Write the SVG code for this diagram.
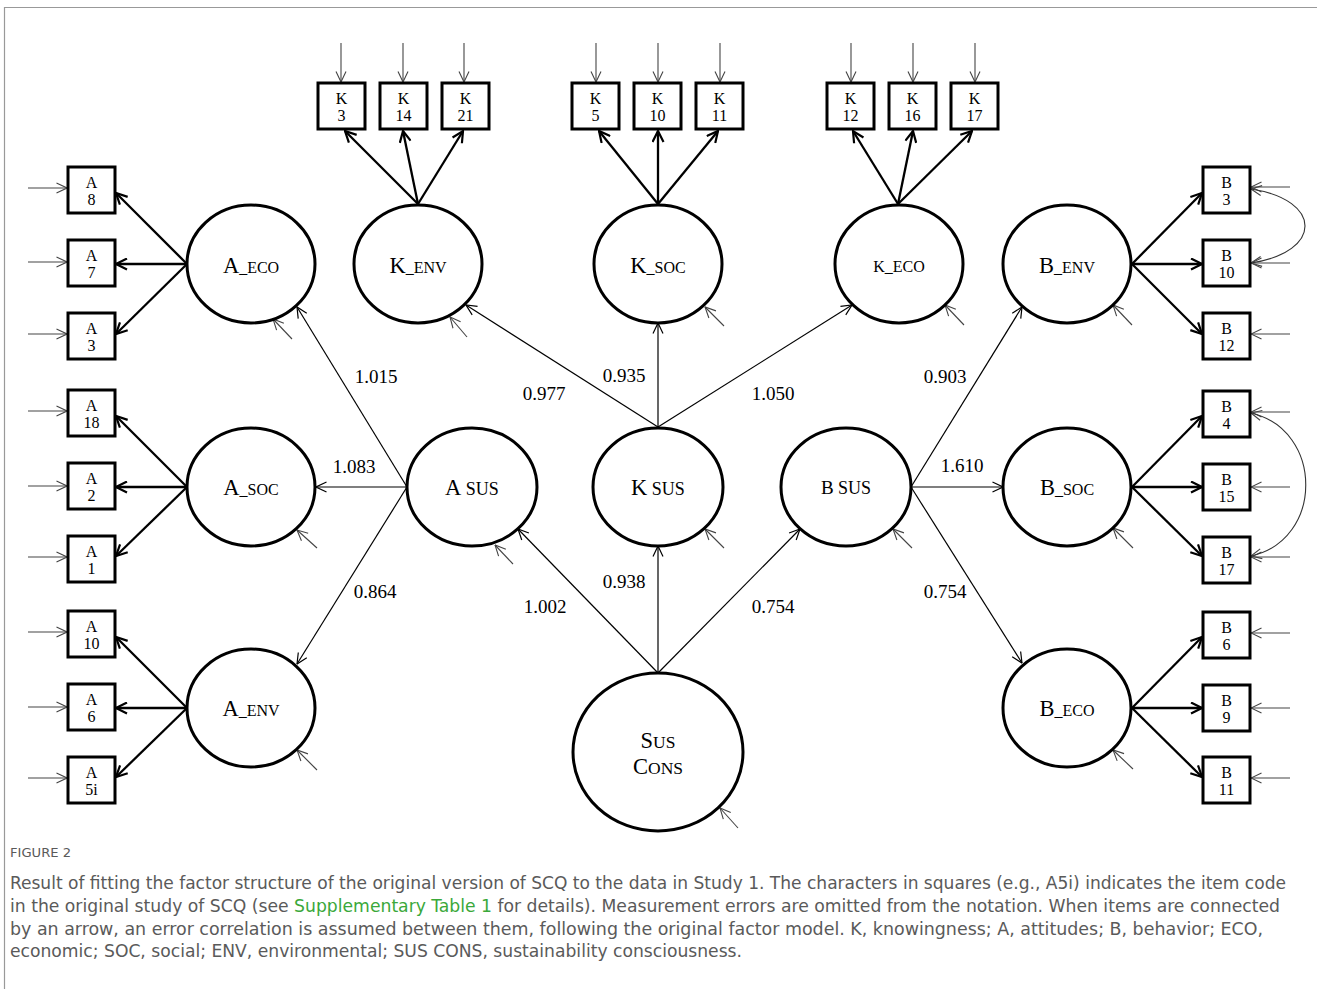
<svg xmlns="http://www.w3.org/2000/svg" width="1317" height="989" viewBox="0 0 1317 989">
<style>
.lat{fill:#fff;stroke:#000;stroke-width:3}
.box{fill:#fff;stroke:#000;stroke-width:3}
.ld{stroke:#000;stroke-width:2.3;fill:none;marker-end:url(#ahb)}
.st{stroke:#000;stroke-width:1.2;fill:none;marker-end:url(#ah)}
.er{stroke:#444;stroke-width:1.1;fill:none;marker-end:url(#ahg)}
.cr{stroke:#333;stroke-width:1.1;fill:none;marker-end:url(#ahg);marker-start:url(#ahg)}
.bt{font-family:"Liberation Serif","DejaVu Serif",serif;font-size:16px;text-anchor:middle;fill:#000}
.lt{font-family:"Liberation Serif","DejaVu Serif",serif;font-size:16px;text-anchor:middle;fill:#000}
.big{font-size:22.5px}
.num{font-family:"Liberation Serif","DejaVu Serif",serif;font-size:19px;text-anchor:middle;fill:#000}
.cap{font-family:"Liberation Sans Narrow","DejaVu Sans Condensed","Roboto Condensed","Liberation Sans",sans-serif;font-size:17px;fill:#5a5a5a}
</style>
<defs>
<marker id="ah" viewBox="0 0 12 12" refX="11.5" refY="6" markerWidth="12" markerHeight="12" markerUnits="userSpaceOnUse" orient="auto-start-reverse"><path d="M1,1 L11.5,6 L1,11" fill="none" stroke="#000" stroke-width="1.2"/></marker>
<marker id="ahb" viewBox="0 0 13 13" refX="12" refY="6.5" markerWidth="13" markerHeight="13" markerUnits="userSpaceOnUse" orient="auto-start-reverse"><path d="M1,1 L12,6.5 L1,12" fill="none" stroke="#000" stroke-width="2.2"/></marker>
<marker id="ahg" viewBox="0 0 12 12" refX="11.5" refY="6" markerWidth="12" markerHeight="12" markerUnits="userSpaceOnUse" orient="auto-start-reverse"><path d="M1,1 L11.5,6 L1,11" fill="none" stroke="#444" stroke-width="1.1"/></marker>
</defs>
<rect width="1317" height="989" fill="#fff"/>
<path d="M4.5,989 V7.5 H1317" fill="none" stroke="#999" stroke-width="1.2"/>

<g id="connectors">
<line class="st" x1="407" y1="487" x2="297" y2="307"/>
<line class="st" x1="407" y1="487" x2="316" y2="487"/>
<line class="st" x1="407" y1="487" x2="297" y2="664"/>
<line class="st" x1="658" y1="427" x2="466" y2="305"/>
<line class="st" x1="658" y1="427" x2="658" y2="323"/>
<line class="st" x1="658" y1="427" x2="852" y2="305"/>
<line class="st" x1="911" y1="487" x2="1022" y2="307"/>
<line class="st" x1="911" y1="487" x2="1003" y2="487"/>
<line class="st" x1="911" y1="487" x2="1022" y2="663"/>
<line class="st" x1="658" y1="673" x2="518" y2="529"/>
<line class="st" x1="658" y1="673" x2="658" y2="546"/>
<line class="st" x1="658" y1="673" x2="800" y2="529"/>
<line class="ld" x1="187" y1="264" x2="116" y2="193"/>
<line class="ld" x1="187" y1="264" x2="116" y2="264"/>
<line class="ld" x1="187" y1="264" x2="116" y2="334"/>
<line class="ld" x1="187" y1="487" x2="116" y2="416"/>
<line class="ld" x1="187" y1="487" x2="116" y2="487"/>
<line class="ld" x1="187" y1="487" x2="116" y2="556"/>
<line class="ld" x1="187" y1="708" x2="116" y2="637"/>
<line class="ld" x1="187" y1="708" x2="116" y2="708"/>
<line class="ld" x1="187" y1="708" x2="116" y2="777"/>
<line class="ld" x1="418" y1="204" x2="345" y2="131"/>
<line class="ld" x1="418" y1="204" x2="403" y2="131"/>
<line class="ld" x1="418" y1="204" x2="463" y2="131"/>
<line class="ld" x1="658" y1="204" x2="599" y2="131"/>
<line class="ld" x1="658" y1="204" x2="658" y2="131"/>
<line class="ld" x1="658" y1="204" x2="718" y2="131"/>
<line class="ld" x1="898" y1="204" x2="853" y2="131"/>
<line class="ld" x1="898" y1="204" x2="913" y2="131"/>
<line class="ld" x1="898" y1="204" x2="972" y2="131"/>
<line class="ld" x1="1132" y1="264" x2="1202" y2="193"/>
<line class="ld" x1="1132" y1="264" x2="1202" y2="264"/>
<line class="ld" x1="1132" y1="264" x2="1202" y2="334"/>
<line class="ld" x1="1132" y1="487" x2="1202" y2="416"/>
<line class="ld" x1="1132" y1="487" x2="1202" y2="487"/>
<line class="ld" x1="1132" y1="487" x2="1202" y2="556"/>
<line class="ld" x1="1132" y1="708" x2="1202" y2="637"/>
<line class="ld" x1="1132" y1="708" x2="1202" y2="708"/>
<line class="ld" x1="1132" y1="708" x2="1202" y2="777"/>
<line class="er" x1="292" y1="339" x2="273" y2="319"/>
<line class="er" x1="317" y1="548" x2="297" y2="530"/>
<line class="er" x1="317" y1="770" x2="297" y2="750"/>
<line class="er" x1="467" y1="337" x2="450" y2="317"/>
<line class="er" x1="724" y1="326" x2="705" y2="307"/>
<line class="er" x1="964" y1="325" x2="945" y2="305"/>
<line class="er" x1="1132" y1="325" x2="1113" y2="305"/>
<line class="er" x1="1133" y1="548" x2="1113" y2="528"/>
<line class="er" x1="1133" y1="769" x2="1113" y2="750"/>
<line class="er" x1="513" y1="564" x2="495" y2="545"/>
<line class="er" x1="724" y1="548" x2="705" y2="529"/>
<line class="er" x1="912" y1="548" x2="893" y2="529"/>
<line class="er" x1="738" y1="828" x2="720" y2="808"/>
<line class="er" x1="28" y1="188" x2="67" y2="188"/>
<line class="er" x1="28" y1="262" x2="67" y2="262"/>
<line class="er" x1="28" y1="334" x2="67" y2="334"/>
<line class="er" x1="28" y1="411" x2="67" y2="411"/>
<line class="er" x1="28" y1="486" x2="67" y2="486"/>
<line class="er" x1="28" y1="557" x2="67" y2="557"/>
<line class="er" x1="28" y1="632" x2="67" y2="632"/>
<line class="er" x1="28" y1="707" x2="67" y2="707"/>
<line class="er" x1="28" y1="778" x2="67" y2="778"/>
<line class="er" x1="1290" y1="187" x2="1251" y2="187"/>
<line class="er" x1="1290" y1="263" x2="1251" y2="263"/>
<line class="er" x1="1290" y1="334" x2="1251" y2="334"/>
<line class="er" x1="1290" y1="412" x2="1251" y2="412"/>
<line class="er" x1="1290" y1="487" x2="1251" y2="487"/>
<line class="er" x1="1290" y1="557" x2="1251" y2="557"/>
<line class="er" x1="1290" y1="633" x2="1251" y2="633"/>
<line class="er" x1="1290" y1="708" x2="1251" y2="708"/>
<line class="er" x1="1290" y1="778" x2="1251" y2="778"/>
<line class="er" x1="341" y1="43" x2="341" y2="82"/>
<line class="er" x1="403" y1="43" x2="403" y2="82"/>
<line class="er" x1="464" y1="43" x2="464" y2="82"/>
<line class="er" x1="596" y1="43" x2="596" y2="82"/>
<line class="er" x1="658" y1="43" x2="658" y2="82"/>
<line class="er" x1="720" y1="43" x2="720" y2="82"/>
<line class="er" x1="851" y1="43" x2="851" y2="82"/>
<line class="er" x1="913" y1="43" x2="913" y2="82"/>
<line class="er" x1="975" y1="43" x2="975" y2="82"/>
<path class="cr" d="M1251,189 C1323,200 1323,252 1251,263"/>
<path class="cr" d="M1251,413 C1324,430 1324,540 1251,556"/>
</g>

<g id="labels">
<text class="num" x="376" y="383">1.015</text>
<text class="num" x="354" y="473">1.083</text>
<text class="num" x="375" y="598">0.864</text>
<text class="num" x="544" y="400">0.977</text>
<text class="num" x="624" y="382">0.935</text>
<text class="num" x="773" y="400">1.050</text>
<text class="num" x="945" y="383">0.903</text>
<text class="num" x="962" y="472">1.610</text>
<text class="num" x="945" y="598">0.754</text>
<text class="num" x="545" y="613">1.002</text>
<text class="num" x="624" y="588">0.938</text>
<text class="num" x="773" y="613">0.754</text>
</g>

<g id="A_ECO"><ellipse class="lat" cx="251" cy="264" rx="64" ry="59"/><text class="lt" x="251" y="273"><tspan class="big">A</tspan>_ECO</text></g>
<g id="A_SOC"><ellipse class="lat" cx="251" cy="487" rx="64" ry="59"/><text class="lt" x="251" y="495"><tspan class="big">A</tspan>_SOC</text></g>
<g id="A_ENV"><ellipse class="lat" cx="251" cy="708" rx="64" ry="59"/><text class="lt" x="251" y="716"><tspan class="big">A</tspan>_ENV</text></g>
<g id="K_ENV"><ellipse class="lat" cx="418" cy="264" rx="64" ry="59"/><text class="lt" x="418" y="273"><tspan class="big">K</tspan>_ENV</text></g>
<g id="K_SOC"><ellipse class="lat" cx="658" cy="264" rx="64" ry="59"/><text class="lt" x="658" y="273"><tspan class="big">K</tspan>_SOC</text></g>
<g id="K_ECO"><ellipse class="lat" cx="899" cy="264" rx="64" ry="59"/><text class="lt" x="899" y="272">K_ECO</text></g>
<g id="B_ENV"><ellipse class="lat" cx="1067" cy="264" rx="64" ry="59"/><text class="lt" x="1067" y="273"><tspan class="big">B</tspan>_ENV</text></g>
<g id="B_SOC"><ellipse class="lat" cx="1067" cy="487" rx="64" ry="59"/><text class="lt" x="1067" y="495"><tspan class="big">B</tspan>_SOC</text></g>
<g id="B_ECO"><ellipse class="lat" cx="1067" cy="708" rx="64" ry="59"/><text class="lt" x="1067" y="716"><tspan class="big">B</tspan>_ECO</text></g>
<g id="A_SUS"><ellipse class="lat" cx="472" cy="487" rx="65" ry="59"/><text class="lt" x="472" y="495" style="font-size:18px"><tspan class="big">A</tspan> SUS</text></g>
<g id="K_SUS"><ellipse class="lat" cx="658" cy="487" rx="65" ry="59"/><text class="lt" x="658" y="495" style="font-size:18px"><tspan class="big">K</tspan> SUS</text></g>
<g id="B_SUS"><ellipse class="lat" cx="846" cy="487" rx="65" ry="59"/><text class="lt" x="846" y="494" style="font-size:18px"><tspan style="font-size:19px">B</tspan> SUS</text></g>
<g id="SUS_CONS"><ellipse class="lat" cx="658" cy="752" rx="85" ry="79"/><text class="lt" x="658" y="748" style="font-size:17.5px"><tspan class="big">S</tspan>US</text><text class="lt" x="658" y="774" style="font-size:17.5px"><tspan class="big">C</tspan>ONS</text></g>

<g id="A8"><rect class="box" x="68" y="167" width="47" height="46"/><text class="bt" x="91.5" y="188">A</text><text class="bt" x="91.5" y="205">8</text></g>
<g id="A7"><rect class="box" x="68" y="240" width="47" height="46"/><text class="bt" x="91.5" y="261">A</text><text class="bt" x="91.5" y="278">7</text></g>
<g id="A3"><rect class="box" x="68" y="313" width="47" height="46"/><text class="bt" x="91.5" y="334">A</text><text class="bt" x="91.5" y="351">3</text></g>
<g id="A18"><rect class="box" x="68" y="390" width="47" height="46"/><text class="bt" x="91.5" y="411">A</text><text class="bt" x="91.5" y="428">18</text></g>
<g id="A2"><rect class="box" x="68" y="463" width="47" height="46"/><text class="bt" x="91.5" y="484">A</text><text class="bt" x="91.5" y="501">2</text></g>
<g id="A1"><rect class="box" x="68" y="536" width="47" height="46"/><text class="bt" x="91.5" y="557">A</text><text class="bt" x="91.5" y="574">1</text></g>
<g id="A10"><rect class="box" x="68" y="611" width="47" height="46"/><text class="bt" x="91.5" y="632">A</text><text class="bt" x="91.5" y="649">10</text></g>
<g id="A6"><rect class="box" x="68" y="684" width="47" height="46"/><text class="bt" x="91.5" y="705">A</text><text class="bt" x="91.5" y="722">6</text></g>
<g id="A5i"><rect class="box" x="68" y="757" width="47" height="46"/><text class="bt" x="91.5" y="778">A</text><text class="bt" x="91.5" y="795">5i</text></g>

<g id="B3"><rect class="box" x="1203" y="167" width="47" height="46"/><text class="bt" x="1226.5" y="188">B</text><text class="bt" x="1226.5" y="205">3</text></g>
<g id="B10"><rect class="box" x="1203" y="240" width="47" height="46"/><text class="bt" x="1226.5" y="261">B</text><text class="bt" x="1226.5" y="278">10</text></g>
<g id="B12"><rect class="box" x="1203" y="313" width="47" height="46"/><text class="bt" x="1226.5" y="334">B</text><text class="bt" x="1226.5" y="351">12</text></g>
<g id="B4"><rect class="box" x="1203" y="391" width="47" height="46"/><text class="bt" x="1226.5" y="412">B</text><text class="bt" x="1226.5" y="429">4</text></g>
<g id="B15"><rect class="box" x="1203" y="464" width="47" height="46"/><text class="bt" x="1226.5" y="485">B</text><text class="bt" x="1226.5" y="502">15</text></g>
<g id="B17"><rect class="box" x="1203" y="537" width="47" height="46"/><text class="bt" x="1226.5" y="558">B</text><text class="bt" x="1226.5" y="575">17</text></g>
<g id="B6"><rect class="box" x="1203" y="612" width="47" height="46"/><text class="bt" x="1226.5" y="633">B</text><text class="bt" x="1226.5" y="650">6</text></g>
<g id="B9"><rect class="box" x="1203" y="685" width="47" height="46"/><text class="bt" x="1226.5" y="706">B</text><text class="bt" x="1226.5" y="723">9</text></g>
<g id="B11"><rect class="box" x="1203" y="757" width="47" height="46"/><text class="bt" x="1226.5" y="778">B</text><text class="bt" x="1226.5" y="795">11</text></g>

<g id="K3"><rect class="box" x="318" y="83" width="47" height="46"/><text class="bt" x="341.5" y="104">K</text><text class="bt" x="341.5" y="121">3</text></g>
<g id="K14"><rect class="box" x="380" y="83" width="47" height="46"/><text class="bt" x="403.5" y="104">K</text><text class="bt" x="403.5" y="121">14</text></g>
<g id="K21"><rect class="box" x="442" y="83" width="47" height="46"/><text class="bt" x="465.5" y="104">K</text><text class="bt" x="465.5" y="121">21</text></g>
<g id="K5"><rect class="box" x="572" y="83" width="47" height="46"/><text class="bt" x="595.5" y="104">K</text><text class="bt" x="595.5" y="121">5</text></g>
<g id="K10"><rect class="box" x="634" y="83" width="47" height="46"/><text class="bt" x="657.5" y="104">K</text><text class="bt" x="657.5" y="121">10</text></g>
<g id="K11"><rect class="box" x="696" y="83" width="47" height="46"/><text class="bt" x="719.5" y="104">K</text><text class="bt" x="719.5" y="121">11</text></g>
<g id="K12"><rect class="box" x="827" y="83" width="47" height="46"/><text class="bt" x="850.5" y="104">K</text><text class="bt" x="850.5" y="121">12</text></g>
<g id="K16"><rect class="box" x="889" y="83" width="47" height="46"/><text class="bt" x="912.5" y="104">K</text><text class="bt" x="912.5" y="121">16</text></g>
<g id="K17"><rect class="box" x="951" y="83" width="47" height="46"/><text class="bt" x="974.5" y="104">K</text><text class="bt" x="974.5" y="121">17</text></g>

<g id="caption">
<text class="cap" x="10" y="857" style="font-size:12px" textLength="61" lengthAdjust="spacingAndGlyphs">FIGURE 2</text>
<text class="cap" x="10" y="889" textLength="1276" lengthAdjust="spacingAndGlyphs">Result of fitting the factor structure of the original version of SCQ to the data in Study 1. The characters in squares (e.g., A5i) indicates the item code</text>
<text class="cap" x="10" y="912" textLength="1270" lengthAdjust="spacingAndGlyphs">in the original study of SCQ (see <tspan fill="#3aa83a">Supplementary Table 1</tspan> for details). Measurement errors are omitted from the notation. When items are connected</text>
<text class="cap" x="10" y="935" textLength="1253" lengthAdjust="spacingAndGlyphs">by an arrow, an error correlation is assumed between them, following the original factor model. K, knowingness; A, attitudes; B, behavior; ECO,</text>
<text class="cap" x="10" y="957" textLength="732" lengthAdjust="spacingAndGlyphs">economic; SOC, social; ENV, environmental; SUS CONS, sustainability consciousness.</text>
</g>
</svg>
